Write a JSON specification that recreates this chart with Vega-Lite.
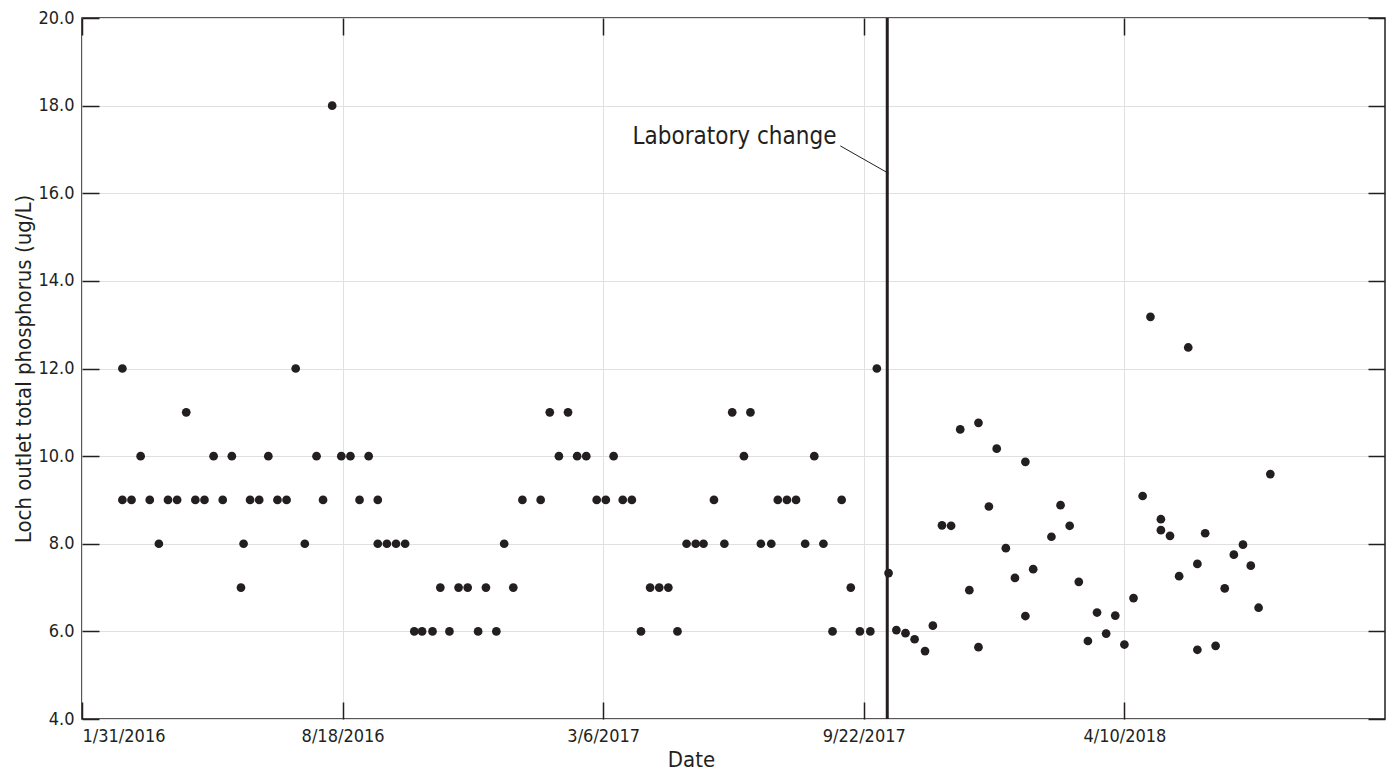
{
  "$schema": "https://vega.github.io/schema/vega-lite/v6.json",
  "width": 1303,
  "height": 701,
  "autosize": {"type": "none"},
  "padding": {"left": 82, "top": 18, "right": 10, "bottom": 54},
  "background": "white",
  "config": {
    "view": {"stroke": "#231f20", "strokeWidth": 1.5},
    "font": "DejaVu Sans Condensed, sans-serif",
    "axis": {
      "domain": false,
      "tickColor": "#231f20",
      "tickWidth": 1.5,
      "tickSize": -17,
      "labelColor": "#231f20",
      "labelFontSize": 18,
      "labelFont": "DejaVu Sans Condensed",
      "titleFont": "DejaVu Sans Condensed",
      "titleColor": "#231f20",
      "titleFontWeight": "normal",
      "titleFontSize": 22,
      "gridColor": "#e0e0e0",
      "gridWidth": 1
    }
  },
  "datasets": {
    "tp": [
      {"date": "2016-03-02", "tp": 12}, {"date": "2016-03-02", "tp": 9}, {"date": "2016-03-09", "tp": 9},
      {"date": "2016-03-16", "tp": 10}, {"date": "2016-03-23", "tp": 9}, {"date": "2016-03-30", "tp": 8},
      {"date": "2016-04-06", "tp": 9}, {"date": "2016-04-13", "tp": 9}, {"date": "2016-04-20", "tp": 11},
      {"date": "2016-04-27", "tp": 9}, {"date": "2016-05-04", "tp": 9}, {"date": "2016-05-11", "tp": 10},
      {"date": "2016-05-18", "tp": 9}, {"date": "2016-05-25", "tp": 10}, {"date": "2016-06-01", "tp": 7},
      {"date": "2016-06-03", "tp": 8}, {"date": "2016-06-08", "tp": 9}, {"date": "2016-06-15", "tp": 9},
      {"date": "2016-06-22", "tp": 10}, {"date": "2016-06-29", "tp": 9}, {"date": "2016-07-06", "tp": 9},
      {"date": "2016-07-13", "tp": 12}, {"date": "2016-07-20", "tp": 8}, {"date": "2016-07-29", "tp": 10},
      {"date": "2016-08-03", "tp": 9}, {"date": "2016-08-10", "tp": 18}, {"date": "2016-08-17", "tp": 10},
      {"date": "2016-08-24", "tp": 10}, {"date": "2016-08-31", "tp": 9}, {"date": "2016-09-07", "tp": 10},
      {"date": "2016-09-14", "tp": 9}, {"date": "2016-09-14", "tp": 8}, {"date": "2016-09-21", "tp": 8},
      {"date": "2016-09-28", "tp": 8}, {"date": "2016-10-05", "tp": 8}, {"date": "2016-10-12", "tp": 6},
      {"date": "2016-10-18", "tp": 6}, {"date": "2016-10-26", "tp": 6}, {"date": "2016-11-01", "tp": 7},
      {"date": "2016-11-08", "tp": 6}, {"date": "2016-11-15", "tp": 7}, {"date": "2016-11-22", "tp": 7},
      {"date": "2016-11-30", "tp": 6}, {"date": "2016-12-06", "tp": 7}, {"date": "2016-12-14", "tp": 6},
      {"date": "2016-12-20", "tp": 8}, {"date": "2016-12-27", "tp": 7}, {"date": "2017-01-03", "tp": 9},
      {"date": "2017-01-17", "tp": 9}, {"date": "2017-01-24", "tp": 11}, {"date": "2017-01-31", "tp": 10},
      {"date": "2017-02-07", "tp": 11}, {"date": "2017-02-14", "tp": 10}, {"date": "2017-02-21", "tp": 10},
      {"date": "2017-03-01", "tp": 9}, {"date": "2017-03-08", "tp": 9}, {"date": "2017-03-14", "tp": 10},
      {"date": "2017-03-21", "tp": 9}, {"date": "2017-03-28", "tp": 9}, {"date": "2017-04-04", "tp": 6},
      {"date": "2017-04-11", "tp": 7}, {"date": "2017-04-18", "tp": 7}, {"date": "2017-04-25", "tp": 7},
      {"date": "2017-05-02", "tp": 6}, {"date": "2017-05-09", "tp": 8}, {"date": "2017-05-16", "tp": 8},
      {"date": "2017-05-22", "tp": 8}, {"date": "2017-05-30", "tp": 9}, {"date": "2017-06-07", "tp": 8},
      {"date": "2017-06-13", "tp": 11}, {"date": "2017-06-22", "tp": 10}, {"date": "2017-06-27", "tp": 11},
      {"date": "2017-07-05", "tp": 8}, {"date": "2017-07-13", "tp": 8}, {"date": "2017-07-18", "tp": 9},
      {"date": "2017-07-25", "tp": 9}, {"date": "2017-08-01", "tp": 9}, {"date": "2017-08-08", "tp": 8},
      {"date": "2017-08-15", "tp": 10}, {"date": "2017-08-22", "tp": 8}, {"date": "2017-08-29", "tp": 6},
      {"date": "2017-09-05", "tp": 9}, {"date": "2017-09-12", "tp": 7}, {"date": "2017-09-19", "tp": 6},
      {"date": "2017-09-27", "tp": 6}, {"date": "2017-10-02", "tp": 12}, {"date": "2017-10-11", "tp": 7.33},
      {"date": "2017-10-17", "tp": 6.03}, {"date": "2017-10-24", "tp": 5.96}, {"date": "2017-10-31", "tp": 5.82},
      {"date": "2017-11-08", "tp": 5.55}, {"date": "2017-11-14", "tp": 6.13}, {"date": "2017-11-21", "tp": 8.42},
      {"date": "2017-11-28", "tp": 8.41}, {"date": "2017-12-05", "tp": 10.61}, {"date": "2017-12-12", "tp": 6.94},
      {"date": "2017-12-19", "tp": 10.76}, {"date": "2017-12-19", "tp": 5.64}, {"date": "2017-12-27", "tp": 8.85},
      {"date": "2018-01-02", "tp": 10.17}, {"date": "2018-01-09", "tp": 7.9}, {"date": "2018-01-16", "tp": 7.22},
      {"date": "2018-01-24", "tp": 9.87}, {"date": "2018-01-24", "tp": 6.35}, {"date": "2018-01-30", "tp": 7.42},
      {"date": "2018-02-13", "tp": 8.16}, {"date": "2018-02-20", "tp": 8.88}, {"date": "2018-02-27", "tp": 8.41},
      {"date": "2018-03-06", "tp": 7.13}, {"date": "2018-03-13", "tp": 5.78}, {"date": "2018-03-20", "tp": 6.43},
      {"date": "2018-03-27", "tp": 5.95}, {"date": "2018-04-03", "tp": 6.36}, {"date": "2018-04-10", "tp": 5.7},
      {"date": "2018-04-17", "tp": 6.76}, {"date": "2018-04-24", "tp": 9.09}, {"date": "2018-04-30", "tp": 13.18},
      {"date": "2018-05-08", "tp": 8.56}, {"date": "2018-05-08", "tp": 8.31}, {"date": "2018-05-15", "tp": 8.18},
      {"date": "2018-05-22", "tp": 7.26}, {"date": "2018-05-29", "tp": 12.48}, {"date": "2018-06-05", "tp": 7.54},
      {"date": "2018-06-05", "tp": 5.58}, {"date": "2018-06-11", "tp": 8.24}, {"date": "2018-06-19", "tp": 5.67},
      {"date": "2018-06-26", "tp": 6.98}, {"date": "2018-07-03", "tp": 7.75}, {"date": "2018-07-10", "tp": 7.98},
      {"date": "2018-07-16", "tp": 7.5}, {"date": "2018-07-22", "tp": 6.54}, {"date": "2018-07-31", "tp": 9.59}
    ],
    "labchange": [{"date": "2017-10-10"}],
    "leader": [{"date": "2017-09-04", "tp": 17.08, "date2": "2017-10-11", "tp2": 16.455}],
    "note": [{"date": "2017-09-01", "tp": 17.124, "label": "Laboratory change"}]
  },
  "layer": [
    {
      "data": {"name": "tp"},
      "mark": {"type": "circle", "size": 76, "color": "#231f20", "opacity": 1},
      "encoding": {
        "x": {
          "field": "date", "type": "temporal",
          "scale": {"type": "utc", "domain": [{"year": 2016, "month": 1, "date": 31, "utc": true}, {"year": 2018, "month": 10, "date": 27, "utc": true}]},
          "axis": {
            "orient": "bottom",
            "values": [
              {"year": 2016, "month": 1, "date": 31, "utc": true},
              {"year": 2016, "month": 8, "date": 18, "utc": true},
              {"year": 2017, "month": 3, "date": 6, "utc": true},
              {"year": 2017, "month": 9, "date": 22, "utc": true},
              {"year": 2018, "month": 4, "date": 10, "utc": true}
            ],
            "format": "%-m/%-d/%Y",
            "grid": true,
            "labelPadding": 25,
            "title": "Date",
            "titleX": 609,
            "titleY": 47,
            "titleAlign": "center",
            "titleBaseline": "alphabetic"
          }
        },
        "y": {
          "field": "tp", "type": "quantitative",
          "scale": {"domain": [4, 20], "nice": false, "zero": false},
          "axis": {
            "orient": "left",
            "values": [4, 6, 8, 10, 12, 14, 16, 18, 20],
            "format": ".1f",
            "grid": true,
            "labelPadding": 25,
            "title": "Loch outlet total phosphorus (ug/L)",
            "titleX": -52,
            "titleY": 350.5,
            "titleAngle": -90,
            "titleAlign": "center",
            "titleBaseline": "alphabetic"
          }
        }
      }
    },
    {
      "data": {"name": "leader"},
      "mark": {"type": "rule", "color": "#231f20", "strokeWidth": 1},
      "encoding": {
        "x": {
          "field": "date", "type": "temporal",
          "axis": {
            "orient": "top",
            "values": [
              {"year": 2016, "month": 1, "date": 31, "utc": true},
              {"year": 2016, "month": 8, "date": 18, "utc": true},
              {"year": 2017, "month": 3, "date": 6, "utc": true},
              {"year": 2017, "month": 9, "date": 22, "utc": true},
              {"year": 2018, "month": 4, "date": 10, "utc": true}
            ],
            "labels": false, "grid": false, "title": null
          }
        },
        "x2": {"field": "date2"},
        "y": {
          "field": "tp", "type": "quantitative",
          "axis": {"orient": "right", "values": [4, 6, 8, 10, 12, 14, 16, 18, 20], "labels": false, "grid": false, "title": null}
        },
        "y2": {"field": "tp2"}
      }
    },
    {
      "data": {"name": "labchange"},
      "mark": {"type": "rule", "color": "#231f20", "strokeWidth": 3},
      "encoding": {
        "x": {"field": "date", "type": "temporal", "axis": null}
      }
    },
    {
      "data": {"name": "note"},
      "mark": {"type": "text", "align": "right", "baseline": "alphabetic", "fontSize": 24, "font": "DejaVu Sans Condensed", "color": "#231f20"},
      "encoding": {
        "x": {"field": "date", "type": "temporal", "axis": null},
        "y": {"field": "tp", "type": "quantitative", "axis": null},
        "text": {"field": "label"}
      }
    }
  ],
  "resolve": {"axis": {"x": "independent", "y": "independent"}}
}
